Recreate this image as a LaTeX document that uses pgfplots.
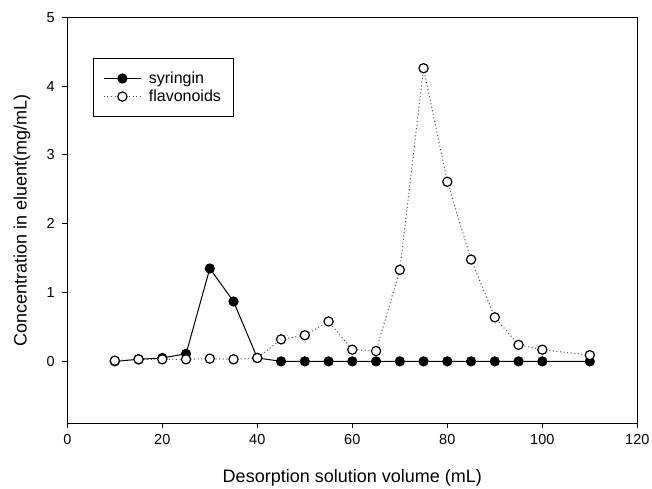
\documentclass[border=0pt]{standalone}
\usepackage{fontspec}
\setmainfont{Liberation Sans}
\usepackage{pgfplots}
\pgfplotsset{compat=1.18}
\begin{document}
\begin{tikzpicture}
\path[use as bounding box] (-67.3pt,-64.7pt) rectangle (584.7pt,423.3pt);
\begin{axis}[
  at={(0pt,0pt)}, anchor=south west,
  scale only axis,
  width=570pt, height=406pt,
  xmin=0, xmax=120, ymin=-0.9, ymax=5,
  xtick={0,20,...,120}, ytick={0,1,2,3,4,5},
  tick align=outside, xtick pos=bottom, ytick pos=left,
  major tick length=5pt,
  axis line style={line width=1pt},
  tick style={line width=0.9pt, black},
  /pgf/number format/assume math mode=true,
  ticklabel style={font=\fontsize{14.5}{17}\selectfont},
  xticklabel style={yshift=-3pt},
  yticklabel style={xshift=-4pt},
  label style={font=\fontsize{18}{22}\selectfont},
  xlabel={Desorption solution volume (mL)},
  ylabel={Concentration in eluent(mg/mL)},
  xlabel style={at={(axis description cs:0.5,-0.145)}, anchor=base},
  ylabel style={at={(axis description cs:-0.0795,0.5)}, anchor=center},
  legend style={at={(0.045,0.8998)}, anchor=north west, draw=black, line width=0.9pt,
    font=\fontsize{16}{19}\selectfont, inner xsep=10pt, inner ysep=11pt,
    nodes={inner sep=2.5pt}, column sep=5pt, cells={anchor=west}},
  legend image code/.code={\draw[#1] (0pt,0pt) -- (37pt,0pt); \draw[#1,mark repeat=2,mark phase=2] plot coordinates {(0pt,0pt) (18.5pt,0pt) (37pt,0pt)};},
]
\addplot[black, solid, line width=1pt, mark=*, mark size=4.6pt, mark options={fill=black, solid}] coordinates {
(10,0) (15,0.03) (20,0.05) (25,0.11) (30,1.35) (35,0.87) (40,0.05)
(45,0) (50,0) (55,0) (60,0) (65,0) (70,0) (75,0) (80,0) (85,0) (90,0) (95,0) (100,0) (110,0)};
\addlegendentry{syringin}
\addplot[black!70, line width=1pt, dash pattern=on 1pt off 2.6pt, mark=*, mark size=4.6pt, mark options={draw=black, fill=white, solid, line width=1.2pt}] coordinates {
(10,0.01) (15,0.03) (20,0.03) (25,0.03) (30,0.04) (35,0.03) (40,0.05)
(45,0.32) (50,0.38) (55,0.58) (60,0.17) (65,0.15) (70,1.33) (75,4.26)
(80,2.61) (85,1.48) (90,0.64) (95,0.24) (100,0.17) (110,0.09)};
\addlegendentry{flavonoids}
\end{axis}
\end{tikzpicture}
\end{document}
